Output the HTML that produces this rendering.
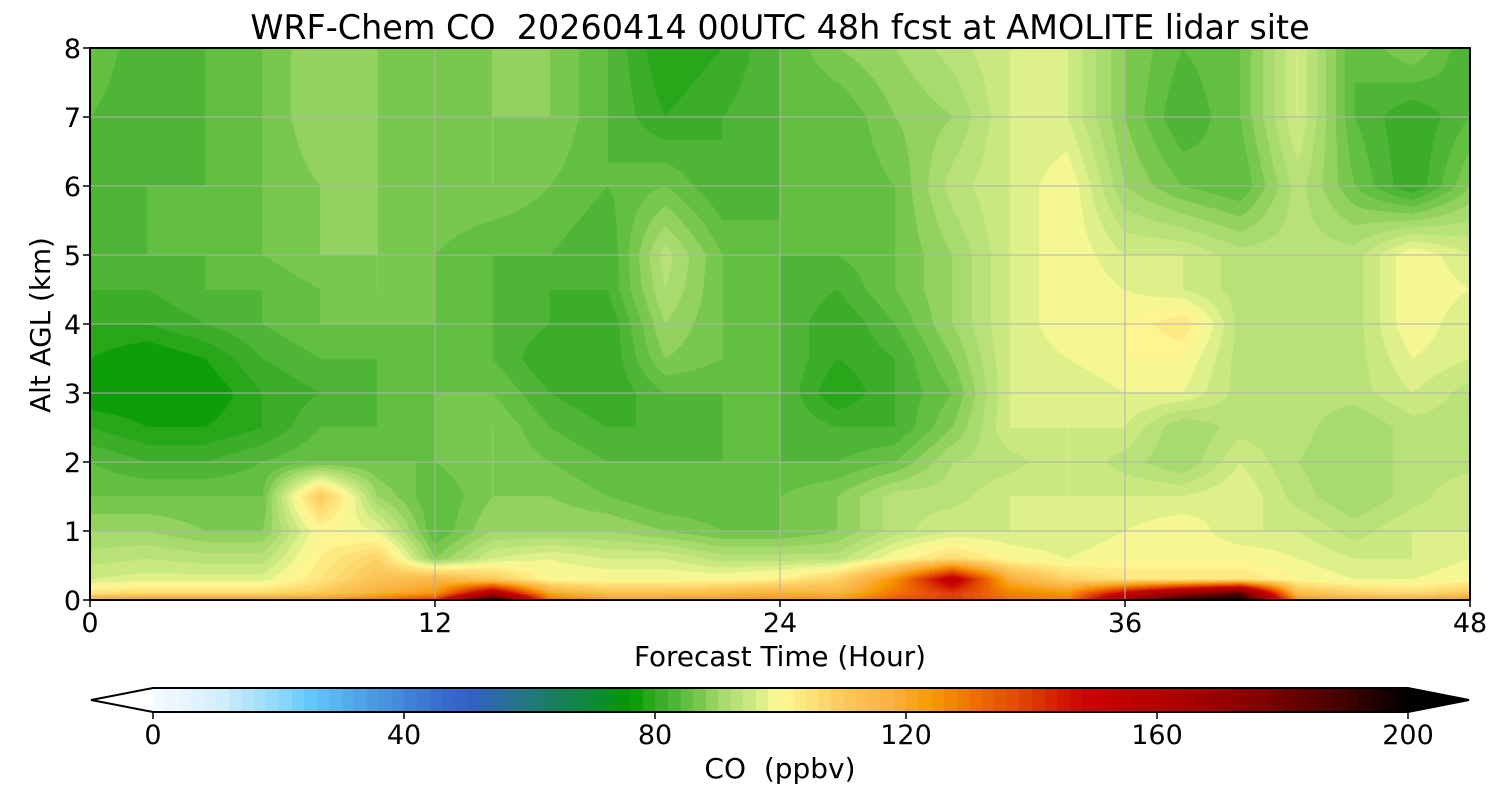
<!DOCTYPE html>
<html><head><meta charset="utf-8">
<style>
html,body{margin:0;padding:0;background:#fff;width:1500px;height:800px;overflow:hidden;font-family:"DejaVu Sans",sans-serif;}
#wrap{position:relative;width:1500px;height:800px;}
text{white-space:pre;}
</style></head>
<body>
<div id="wrap">
<canvas id="field" width="1380" height="552" style="position:absolute;left:90px;top:48px;"></canvas>
<canvas id="cbar" width="1256" height="24" style="position:absolute;left:153px;top:688px;"></canvas>
<svg id="svg" width="1500" height="800" style="position:absolute;left:0;top:0;"></svg>
</div>
<script>
// ---- data ----
const times = [0,2,4,6,8,10,12,14,16,18,20,22,24,26,28,30,32,34,36,38,40,42,44,46,48];
const heights = [8,7,6,5,4.5,4,3.5,3,2.5,2,1.5,1,0.6,0.3,0.1,0];
const co_h8   = [86,82,84,86,90,88,86,88,88,84,78,80,84,88,90,93,96,96,88,84,86,96,84,88,82];
const co_h7   = [84,82,84,86,90,88,86,88,88,84,80,82,84,84,88,90,96,96,88,82,86,96,84,80,84];
const co_h6   = [84,84,84,86,88,88,88,88,86,84,86,82,84,84,86,93,96,100,90,86,84,93,86,80,88];
const co_h5   = [82,84,84,86,88,88,86,84,84,82,93,86,84,84,86,90,96,100,96,96,93,93,93,100,96];
const co_h45  = [82,82,84,84,86,88,86,84,82,82,92,86,84,82,86,90,96,100,98,96,93,93,93,100,98];
const co_h4   = [80,80,82,84,86,86,86,84,82,80,90,86,84,80,84,90,96,100,100,104,93,93,93,100,96];
const co_h35  = [78,76,78,82,84,84,86,84,80,80,88,86,84,80,82,88,96,98,100,100,93,93,93,98,96];
const co_h3   = [76,76,76,80,82,84,86,86,82,80,84,84,84,78,82,86,96,96,98,98,93,93,93,96,93];
const co_h25  = [80,78,78,80,84,84,86,88,84,82,82,84,84,82,82,88,96,96,96,90,93,93,90,93,93];
const co_h2   = [84,82,82,84,86,86,86,88,86,84,84,84,84,84,86,92,93,96,93,90,96,92,90,93,93];
const co_h15  = [86,86,86,86,110,90,84,88,88,86,84,84,86,88,93,93,96,96,96,96,98,93,90,93,96];
const co_h1   = [90,90,88,88,100,98,84,90,90,90,88,86,86,88,93,96,96,96,98,100,96,96,93,96,96];
const co_h06  = [93,94,93,93,102,108,88,96,98,96,96,93,93,93,100,106,100,98,100,100,100,98,96,96,98];
const co_h03  = [96,97,97,97,104,112,116,110,100,100,100,100,102,108,125,155,118,108,104,104,104,100,98,98,100];
const co_h01  = [104,106,106,106,110,118,124,160,120,112,112,114,118,116,130,140,128,124,150,170,185,114,108,106,110];
const co_h0   = [120,124,124,124,124,130,140,200,130,124,124,124,124,124,135,140,130,128,170,195,200,124,118,118,124];
const grid = [co_h8,co_h7,co_h6,co_h5,co_h45,co_h4,co_h35,co_h3,co_h25,co_h2,co_h15,co_h1,co_h06,co_h03,co_h01,co_h0];
const xTicks = [0,12,24,36,48];
const yTicks = [0,1,2,3,4,5,6,7,8];
const cbTicks = [0,40,80,120,160,200];

// ---- colormap ----
const cmapV = [0,10,20,25,35,45,50,60,70,76,78,80,82,84,86,88,90,93,96,98,100,104,110,118,124,132,140,146,150,165,177,190,200];
const cmapC = ['f5faff','d6effc','8fd8fb','62c8fc','4a9ae0','3a6fd0','3260c8','22787a','0e8a3a','009800','1ca414','33aa22','44b030','5aba3c','6ac444','86cc55','a0d868','b8e278','d2ec84','e8f48e','fffa96','fde57c','fcc85a','fbb040','f99a00','ec6800','dc3c00','d01000','c80000','a80000','800000','400000','000000'];
function hex(c){return [parseInt(c.slice(0,2),16),parseInt(c.slice(2,4),16),parseInt(c.slice(4,6),16)];}
function cmap(v){
  if(v<=cmapV[0]) return hex(cmapC[0]);
  for(let i=1;i<cmapV.length;i++){ if(v<=cmapV[i]){const f=(v-cmapV[i-1])/(cmapV[i]-cmapV[i-1]);const a=hex(cmapC[i-1]),b=hex(cmapC[i]);return [0,1,2].map(k=>Math.round(a[k]+(b[k]-a[k])*f));}}
  return [0,0,0];
}
function quant(v){return Math.floor(v/2)*2+1;}

// ---- axes ----
const X0=90,X1=1470,Y0=600,Y1=48;
const xs = t => X0+(t-0)/48*(X1-X0);
const ys = h => Y0-(h/8)*(Y0-Y1);
const cbx = v => 153+v/200*1255;

// ---- field ----
function locate(arr,v,desc){
  for(let i=0;i<arr.length-1;i++){
    const a=arr[i],b=arr[i+1];
    if(desc? (v<=a&&v>=b):(v>=a&&v<=b)) return [i,(v-a)/(b-a)];
  }
  return [arr.length-2,1];
}
(function(){
  const cv=document.getElementById('field'),ctx=cv.getContext('2d');
  const W=cv.width,H=cv.height,img=ctx.createImageData(W,H);
  const cache={};
  for(let py=0;py<H;py++){
    const h=8-(py+0.5)/H*8;
    const [j,fy]=locate(heights,h,true);
    for(let px=0;px<W;px++){
      const t=(px+0.5)/W*48;
      const [i,fx]=locate(times,t,false);
      const v=(grid[j][i]*(1-fx)+grid[j][i+1]*fx)*(1-fy)+(grid[j+1][i]*(1-fx)+grid[j+1][i+1]*fx)*fy;
      const q=quant(v);
      const c=cache[q]||(cache[q]=cmap(q));
      const o=(py*W+px)*4;img.data[o]=c[0];img.data[o+1]=c[1];img.data[o+2]=c[2];img.data[o+3]=255;
    }
  }
  ctx.putImageData(img,0,0);
  const cb=document.getElementById('cbar'),c2=cb.getContext('2d');
  for(let px=0;px<cb.width;px++){const v=px/1255*200;const c=cmap(quant(v));c2.fillStyle='rgb('+c+')';c2.fillRect(px,0,1,24);}
})();

// ---- overlay ----
const svg=document.getElementById('svg');const NS='http://www.w3.org/2000/svg';
function el(tag,attrs,parent){const e=document.createElementNS(NS,tag);for(const k in attrs)e.setAttribute(k,attrs[k]);(parent||svg).appendChild(e);return e;}
function txt(s,attrs){const e=el('text',Object.assign({'font-family':'DejaVu Sans, sans-serif',fill:'#000'},attrs));e.textContent=s;return e;}

xTicks.forEach(t=>{
  if(t>0&&t<48){const g=el('line',{x1:xs(t),x2:xs(t),y1:Y1,y2:Y0,stroke:'#b0b0b8','stroke-width':1});
  
  }
  const tk=el('line',{x1:xs(t),x2:xs(t),y1:Y0,y2:Y0+7,stroke:'#000','stroke-width':1.5});
  
  
  const l=txt(String(t),{x:xs(t),y:632,'font-size':27,'text-anchor':'middle'});
  
  
});
yTicks.forEach(h=>{
  if(h>0&&h<8){const g=el('line',{x1:X0,x2:X1,y1:ys(h),y2:ys(h),stroke:'#b0b0b8','stroke-width':1});
  
  }
  const tk=el('line',{x1:X0-7,x2:X0,y1:ys(h),y2:ys(h),stroke:'#000','stroke-width':1.5});
  
  
  const l=txt(String(h),{x:X0-9,y:ys(h)+10,'font-size':27,'text-anchor':'end'});
  
  
});
const frame=el('rect',{x:X0,y:Y1,width:X1-X0,height:Y0-Y1,fill:'none',stroke:'#000','stroke-width':2});



const title=txt('WRF-Chem CO  20260414 00UTC 48h fcst at AMOLITE lidar site',{x:780,y:39,'font-size':33.4,'text-anchor':'middle'});


const xl=txt('Forecast Time (Hour)',{x:780,y:666,'font-size':27.8,'text-anchor':'middle'});


const yl=txt('Alt AGL (km)',{x:0,y:0,'font-size':27.8,'text-anchor':'middle',transform:'translate(50,325) rotate(-90)'});



// colorbar extensions and frame
const lt=el('polygon',{points:'153,688 91,700 153,712',fill:'#ffffff',stroke:'none'});


const rt=el('polygon',{points:'1408,688 1469,700 1408,712',fill:'#000',stroke:'none'});


const cbf=el('polygon',{points:'153,688 1408,688 1469,700 1408,712 153,712 91,700',fill:'none',stroke:'#000','stroke-width':2});


cbTicks.forEach(v=>{
  const tk=el('line',{x1:cbx(v),x2:cbx(v),y1:712,y2:719,stroke:'#000','stroke-width':1.5});
  
  
  const l=txt(String(v),{x:cbx(v),y:744,'font-size':27,'text-anchor':'middle'});
  
  
});
const cbl=txt('CO  (ppbv)',{x:780,y:778,'font-size':28,'text-anchor':'middle'});


</script>
</body></html>
